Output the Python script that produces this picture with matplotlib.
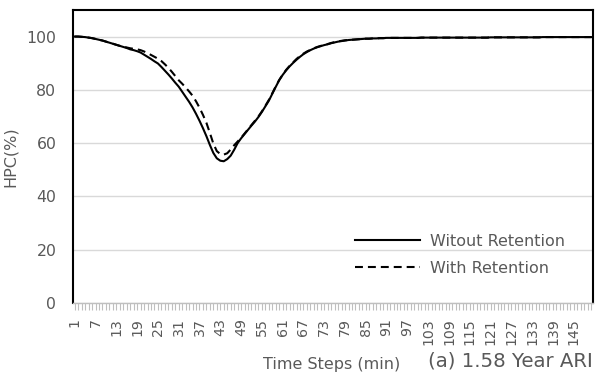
import matplotlib.pyplot as plt
import numpy as np

plt.rcParams['font.family'] = ['DejaVu Sans']

# time steps 1..150 (min)
steps = list(range(1, 151))

# HPC (%) without retention
without_ret = [
    100.0, 100.0, 99.9, 99.8, 99.6, 99.4, 99.1, 98.8, 98.5, 98.1,
    97.7, 97.3, 96.9, 96.5, 96.1, 95.7, 95.2, 94.9, 94.5, 94.0,
    93.2, 92.4, 91.6, 90.7, 89.9, 88.6, 87.2, 85.8, 84.3, 82.7,
    81.2, 79.3, 77.4, 75.5, 73.4, 71.0, 68.4, 65.6, 62.6, 59.3,
    56.3, 54.3, 53.4, 53.2, 54.0, 55.3, 57.5, 60.0, 61.8, 63.4,
    65.0, 66.6, 68.1, 69.8, 71.7, 73.8, 75.9, 78.5, 81.1, 83.6,
    85.6, 87.3, 88.8, 90.1, 91.3, 92.4, 93.4, 94.2, 94.9, 95.5,
    96.0, 96.4, 96.8, 97.1, 97.5, 97.8, 98.1, 98.3, 98.5, 98.7,
    98.8, 98.9, 99.0, 99.1, 99.2, 99.2, 99.3, 99.3, 99.4, 99.4,
    99.5, 99.5, 99.5, 99.5, 99.5, 99.5, 99.5, 99.5, 99.5, 99.5,
    99.6, 99.6, 99.6, 99.6, 99.6, 99.6, 99.6, 99.6, 99.6, 99.6,
    99.6, 99.6, 99.6, 99.6, 99.6, 99.6, 99.6, 99.6, 99.6, 99.6,
    99.7, 99.7, 99.7, 99.7, 99.7, 99.7, 99.7, 99.7, 99.7, 99.7,
    99.7, 99.7, 99.7, 99.7, 99.7, 99.8, 99.8, 99.8, 99.8, 99.8,
    99.8, 99.8, 99.8, 99.8, 99.8, 99.8, 99.8, 99.8, 99.8, 99.8,
]

# HPC (%) with retention
with_ret = [
    100.0, 100.0, 99.9, 99.8, 99.6, 99.4, 99.1, 98.8, 98.5, 98.1,
    97.7, 97.3, 96.9, 96.5, 96.2, 95.9, 95.6, 95.4, 95.2, 94.9,
    94.4, 93.8, 93.1, 92.4, 91.7, 90.8, 89.6, 88.3, 86.8, 85.2,
    83.6, 82.3, 80.9, 79.4, 77.8, 75.7, 73.3, 70.6, 67.6, 63.8,
    59.8, 57.0, 55.9, 55.7, 56.2, 57.6, 59.2, 60.6, 62.0, 63.6,
    65.2, 66.8, 68.4, 70.0, 71.9, 74.0, 76.2, 78.7, 81.3, 83.7,
    85.7, 87.5, 89.0, 90.3, 91.6, 92.7, 93.6, 94.4, 95.0, 95.6,
    96.1, 96.5, 96.9, 97.2, 97.6, 97.9, 98.2, 98.4, 98.6, 98.7,
    98.8, 98.9, 99.0, 99.1, 99.2, 99.2, 99.3, 99.3, 99.4, 99.4,
    99.5, 99.5, 99.5, 99.5, 99.5, 99.5, 99.5, 99.5, 99.5, 99.5,
    99.6, 99.6, 99.6, 99.6, 99.6, 99.6, 99.6, 99.6, 99.6, 99.6,
    99.6, 99.6, 99.6, 99.6, 99.6, 99.6, 99.6, 99.6, 99.6, 99.6,
    99.7, 99.7, 99.7, 99.7, 99.7, 99.7, 99.7, 99.7, 99.7, 99.7,
    99.7, 99.7, 99.7, 99.7, 99.7, 99.8, 99.8, 99.8, 99.8, 99.8,
    99.8, 99.8, 99.8, 99.8, 99.8, 99.8, 99.8, 99.8, 99.8, 99.8,
]

grey = '#595959'

fig = plt.figure(figsize=(6, 3.81), dpi=100)
ax = fig.add_axes([0.1217, 0.2047, 0.8663, 0.7693])

x = np.arange(len(steps))
ax.plot(x, without_ret, color='black', lw=1.5, label='Witout Retention')
ax.plot(x, with_ret, color='black', lw=1.5, ls=(0, (3.8, 2.4)), label='With Retention')

ax.set_xlim(-0.5, len(steps) - 0.5)
ax.set_ylim(0, 110)
ax.set_yticks([0, 20, 40, 60, 80, 100])
ax.yaxis.grid(True, color='#d9d9d9', lw=1)
ax.set_axisbelow(True)

# category ticks: label every 6th step
ax.set_xticks(x[::6])
ax.set_xticklabels([str(s) for s in steps[::6]], rotation=90)
ax.set_xticks(x, minor=True)
ax.tick_params(axis='x', which='both', length=5, color='#bfbfbf', width=0.8,
               labelsize=10.2, labelcolor=grey, pad=6)
ax.tick_params(axis='y', length=0, labelsize=11.3, labelcolor=grey, pad=12)

for side in ['left', 'top', 'right']:
    ax.spines[side].set_color('black')
    ax.spines[side].set_linewidth(1.5)
ax.spines['bottom'].set_color('#bfbfbf')
ax.spines['bottom'].set_linewidth(1)

ax.set_ylabel('HPC(%)', color=grey, fontsize=11.5)
ax.yaxis.set_label_coords(-0.106, 0.5)

fig.text(0.438, 0.031, 'Time Steps (min)', color=grey, fontsize=11.5)
fig.text(0.713, 0.039, '(a) 1.58 Year ARI', color=grey, fontsize=14.2)

leg = ax.legend(loc='upper left', bbox_to_anchor=(355 / 600, 1 - 234 / 381),
                bbox_transform=fig.transFigure, frameon=False, borderpad=0,
                borderaxespad=0, fontsize=11.5, handlelength=4.1,
                handletextpad=0.6, labelspacing=0.75)
for t in leg.get_texts():
    t.set_color(grey)

fig.savefig('out.png', dpi=100)
